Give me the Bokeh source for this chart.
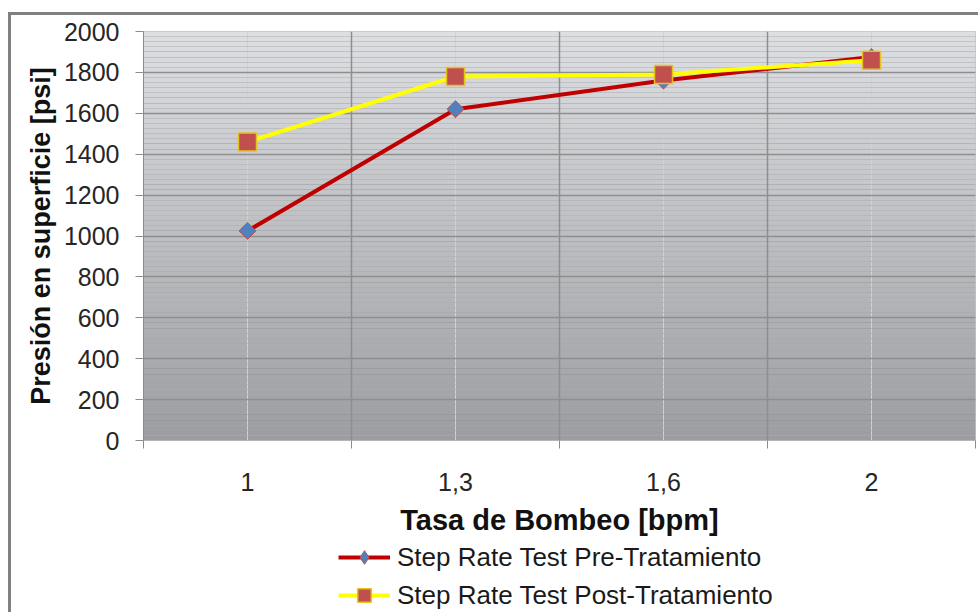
import numpy as np
from bokeh.plotting import figure
from bokeh.layouts import column
from bokeh.models import FixedTicker, Legend, LegendItem, BoxAnnotation, Range1d, Title
from bokeh.embed import file_html
from bokeh.resources import INLINE

# ---- data ----
categories = ["1", "1,3", "1,6", "2"]
pre_values = [1025, 1620, 1760, 1875]
post_values = [1460, 1780, 1790, 1860]
y_ticks = [0, 200, 400, 600, 800, 1000, 1200, 1400, 1600, 1800, 2000]
pre_label = "Step Rate Test Pre-Tratamiento"
post_label = "Step Rate Test Post-Tratamiento"
x_title = "Tasa de Bombeo [bpm]"
y_title = "Presión en superficie [psi]"

FONT = "Liberation Sans"
PRE_STYLE = dict(line=dict(line_color="#c00000", line_width=4),
                 marker=dict(marker="square", angle=np.pi / 4, size=12,
                             fill_color="#4f81bd", line_color="#c0504d", line_width=1))
POST_STYLE = dict(line=dict(line_color="#ffff00", line_width=4),
                  marker=dict(marker="square", size=18,
                              fill_color="#c0504d", line_color="#e6c21e", line_width=1.5))

x_pos = [i + 0.5 for i in range(len(categories))]
n_cat = len(categories)

p = figure(frame_width=832, frame_height=409, output_backend="svg", toolbar_location=None,
           x_range=Range1d(0, n_cat), y_range=Range1d(0, 2000),
           min_border_left=132, min_border_right=3, min_border_top=16,
           min_border_bottom=100)
p.background_fill_color = "#ffffff"
p.border_fill_color = "#ffffff"
p.outline_line_color = "#c4c4c4"
p.outline_line_width = 1

# gradient background of plot area
n_bands = 80
top_rgb = np.array([222, 223, 226])
bot_rgb = np.array([156, 157, 162])
edges = np.linspace(0, 2000, n_bands + 1)
for i in range(n_bands):
    t = (i + 0.5) / n_bands  # 0 bottom -> 1 top
    c = bot_rgb + (top_rgb - bot_rgb) * t
    col = "#%02x%02x%02x" % tuple(int(round(v)) for v in c)
    p.add_layout(BoxAnnotation(bottom=edges[i], top=edges[i + 1], fill_color=col,
                               fill_alpha=1, line_color=None, level="image"))

# x axis: labels at category centres, ticks at boundaries
p.xaxis.ticker = FixedTicker(ticks=x_pos, minor_ticks=list(range(n_cat + 1)))
p.xaxis.major_label_overrides = {xp: c for xp, c in zip(x_pos, categories)}
p.xaxis.major_tick_out = 0
p.xaxis.major_tick_in = 0
p.xaxis.minor_tick_out = 8
p.xaxis.minor_tick_in = 0
p.xaxis.minor_tick_line_color = "#8c8c8c"
p.xaxis.axis_line_color = "#b4b4b4"
p.xaxis.major_label_standoff = 24
p.xaxis.major_label_text_font = FONT
p.xaxis.major_label_text_font_size = "25px"
p.xaxis.major_label_text_color = "#262626"
p.xaxis.axis_label = x_title
p.xaxis.axis_label_text_font = FONT
p.xaxis.axis_label_text_font_size = "29px"
p.xaxis.axis_label_text_font_style = "bold"
p.xaxis.axis_label_text_color = "#111111"
p.xaxis.axis_label_standoff = 10

p.yaxis.ticker = FixedTicker(ticks=y_ticks, minor_ticks=list(range(0, 2001, 25)))
p.yaxis.major_tick_out = 8
p.yaxis.major_tick_in = 0
p.yaxis.minor_tick_out = 0
p.yaxis.minor_tick_in = 0
p.yaxis.major_tick_line_color = "#8c8c8c"
p.yaxis.axis_line_color = "#8c8c8c"
p.yaxis.major_label_standoff = 16
p.yaxis.major_label_text_font = FONT
p.yaxis.major_label_text_font_size = "25px"
p.yaxis.major_label_text_color = "#262626"

ytitle = Title(text=y_title, align="center", offset=43, standoff=9,
               text_font=FONT, text_font_size="27px", text_font_style="bold",
               text_color="#111111")
p.add_layout(ytitle, "left")

# grids
p.xgrid.grid_line_color = "#d2d2d2"
p.xgrid.grid_line_width = 1
p.xgrid.minor_grid_line_color = "#8e8e8e"
p.xgrid.minor_grid_line_width = 1.5
p.ygrid.grid_line_color = "#8e8e8e"
p.ygrid.grid_line_width = 1.5
p.ygrid.minor_grid_line_color = "#8a8a8a"
p.ygrid.minor_grid_line_alpha = 0.35
p.ygrid.minor_grid_line_width = 1

# series
p.line(x_pos, pre_values, **PRE_STYLE["line"])
p.scatter(x_pos, pre_values, **PRE_STYLE["marker"])
p.line(x_pos, post_values, **POST_STYLE["line"])
p.scatter(x_pos, post_values, **POST_STYLE["marker"])

# legend strip below the chart: same series, drawn outside its visible range,
# so that only the legend shows
leg = figure(frame_width=832, frame_height=72, output_backend="svg", toolbar_location=None,
             x_range=Range1d(100, 101), y_range=Range1d(0, 1),
             min_border_left=132, min_border_right=3, min_border_top=0,
             min_border_bottom=0)
leg.axis.visible = False
leg.grid.visible = False
leg.outline_line_color = None
leg.background_fill_color = "#ffffff"
leg.border_fill_color = "#ffffff"
pre_leg_marker = dict(PRE_STYLE["marker"], marker="diamond", angle=0)
lr1 = leg.line(x_pos, pre_values, **PRE_STYLE["line"])
mr1 = leg.scatter(x_pos, pre_values, **pre_leg_marker)
lr2 = leg.line(x_pos, post_values, **POST_STYLE["line"])
mr2 = leg.scatter(x_pos, post_values, **POST_STYLE["marker"])

legend = Legend(items=[LegendItem(label=pre_label, renderers=[lr1, mr1]),
                       LegendItem(label=post_label, renderers=[lr2, mr2])],
                location=(195, 0), orientation="vertical")
legend.label_text_font = FONT
legend.label_text_font_size = "26px"
legend.label_text_color = "#1a1a1a"
legend.glyph_width = 52
legend.glyph_height = 34
legend.label_height = 24
legend.label_standoff = 7
legend.spacing = 4
legend.padding = 0
legend.margin = 0
legend.border_line_color = None
legend.background_fill_alpha = 0
leg.add_layout(legend, "center")

layout = column(p, leg, spacing=0)
layout.styles = {"border-left": "3px solid #808080", "border-top": "3px solid #808080",
                 "margin-left": "8px", "margin-top": "12px"}

open("out.html", "w").write(file_html(layout, INLINE))
